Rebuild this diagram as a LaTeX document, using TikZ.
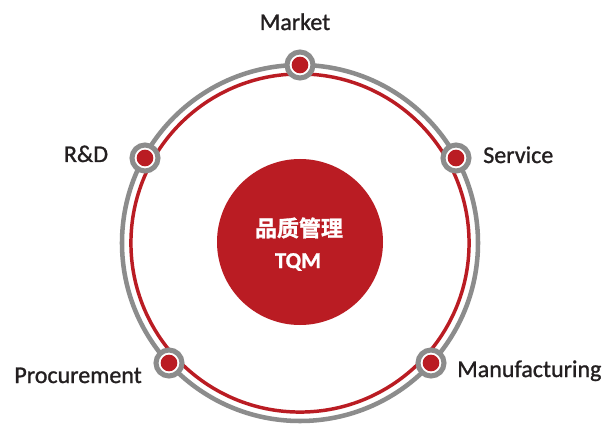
\documentclass[tikz,border=0pt]{standalone}
\usepackage{fontspec}
\setmainfont{Carlito}
\newfontfamily\lblfont{Carlito}[FakeBold=1.1]
\newfontfamily\cjk{Noto Sans CJK SC Bold}[FakeBold=1.4]
\newfontfamily\tqmfont{Carlito}[UprightFont=* Bold,FakeBold=1.2]
\definecolor{tqmred}{HTML}{BA1C23}
\definecolor{ringgray}{HTML}{8C8C8C}
\definecolor{txtdark}{HTML}{231F20}
\begin{document}
\begin{tikzpicture}[x=0.75pt,y=-0.75pt,
  ringnode/.style={circle,draw=ringgray,line width=3.8pt,fill=white,minimum size=19.5pt,inner sep=0pt},
  dotnode/.style={circle,fill=tqmred,minimum size=12.5pt,inner sep=0pt},
  lbl/.style={text=txtdark,font=\lblfont\fontsize{18}{20}\selectfont,inner sep=0pt}]
\useasboundingbox[fill=white] (0,0) rectangle (608,428);
\coordinate (c) at (300,243);
\draw[ringgray,line width=3.4pt] (c) circle[radius=133.5pt];
\draw[tqmred,line width=2.6pt] (c) circle[radius=126.8pt];
\node[circle,fill=tqmred,minimum size=124.5pt,inner sep=0pt] (core) at (300,242) {};
\node[text=white,font=\cjk\fontsize{16.5}{18}\selectfont,inner sep=0pt] (zh) at (299,228) {品质管理};
\node[text=white,font=\tqmfont\fontsize{17}{19}\selectfont,anchor=base,inner sep=0pt] (tqm) at (298,268) {TQM};
% rings
\node[ringnode] (rm) at (300,65) {};
\node[ringnode] (rs) at (456,158) {};
\node[ringnode] (rr) at (145,158) {};
\node[ringnode] (rp) at (169,363) {};
\node[ringnode] (rf) at (431,363) {};
\node[dotnode] (dm) at (rm) {};
\node[dotnode] (ds) at (rs) {};
\node[dotnode] (dr) at (rr) {};
\node[dotnode] (dp) at (rp) {};
\node[dotnode] (df) at (rf) {};
% labels
\node[lbl,anchor=base] (market) at (295,30) {Market};
\node[lbl,anchor=base] (rd) at (86,162) {R\&D};
\node[lbl,anchor=base west] (service) at (483,163) {Service};
\node[lbl,anchor=base east] (procure) at (142,383) {Procurement};
\node[lbl,anchor=base west] (manu) at (457,377) {Manufacturing};
\end{tikzpicture}
\end{document}
